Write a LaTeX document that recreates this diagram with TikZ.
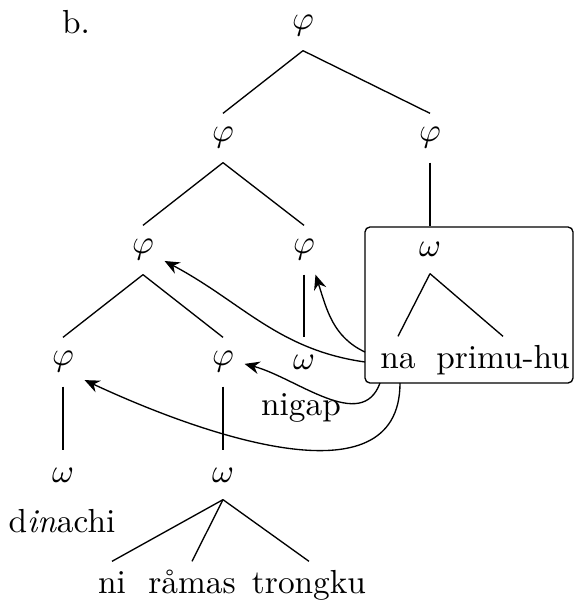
\documentclass[tikz,border=0pt]{standalone}
\usepackage{amssymb}
\usepackage{amsmath}
\usepackage{tikz}
\usetikzlibrary{arrows.meta}

\begin{document}
\begin{tikzpicture}[x=0.3pt,y=0.3pt]
\tikzset{cat/.style = {inner xsep=3pt, inner ysep=0pt, minimum height=14.4pt}}
\tikzset{word/.style = {anchor=base, inner sep=2.4pt, text height=6.9pt, text depth=2pt}}
\tikzset{edge/.style = {->,> = {Stealth[length=4.5pt,width=3.8pt,inset=1.5pt]}}}
\useasboundingbox (0,0) rectangle (575,-600);
% the box
\node[draw, rounded corners=1.5pt, inner sep=0pt, minimum width=62.4pt, minimum height=46.8pt] (box) at (469,-305) {};
% label
\node[anchor=base] (lab) at (76,-33) {b.};
% phrases
\node[cat] (p1) at (303,-26) {$\varphi$};
\node[cat] (p2l) at (223,-138) {$\varphi$};
\node[cat] (p2r) at (430,-138) {$\varphi$};
\node[cat] (p3l) at (143,-250) {$\varphi$};
\node[cat] (p3r) at (304,-250) {$\varphi$};
\node[cat] (p4l) at (63,-362) {$\varphi$};
\node[cat] (p4r) at (223,-362) {$\varphi$};
% words
\node[cat] (w1) at (430,-249) {$\omega$};
\node[cat] (w2) at (304,-362) {$\omega$};
\node[cat] (w3) at (63,-475) {$\omega$};
\node[cat] (w4) at (223,-475) {$\omega$};
% texts
\node[word] (na) at (398,-368) {na};
\node[word] (prim) at (503,-368) {primu-hu};
\node[word] (nigap) at (301,-415) {nigap};
\node[word] (din) at (62,-532) {d\textit{in}achi};
\node[word] (ni) at (112,-593) {ni};
\node[word] (ramas) at (192,-593) {råmas};
\node[word] (trong) at (309,-593) {trongku};
% branches
\draw (p1.south) -- (p2l.north);
\draw (p1.south) -- (p2r.north);
\draw (p2l.south) -- (p3l.north);
\draw (p2l.south) -- (p3r.north);
\draw (p2r.south) -- (box.north -| p2r);
\draw (p3l.south) -- (p4l.north);
\draw (p3l.south) -- (p4r.north);
\draw (p3r.south) -- (w2.north);
\draw (p4l.south) -- (w3.north);
\draw (p4r.south) -- (w4.north);
\draw (w1.south) -- (na.north);
\draw (w1.south) -- (prim.north);
\draw (w4.south) -- (ni.north);
\draw (w4.south) -- (ramas.north);
\draw (w4.south) -- (trong.north);
% arrows
\coordinate (s1) at (365,-362);
\coordinate (s2) at (365,-352);
\coordinate (s3) at (380,-383);
\coordinate (s4) at (400,-383);
\draw[edge] (s1) to[out=172,in=-28] (p3l.-27);
\draw[edge] (s2) to[out=155,in=-72] (p3r.-65);
\draw[edge] (s3) to[out=-110,in=-15] (p4r.-5);
\draw[edge] (s4) to[out=-90,in=-25] (p4l.-40);
\end{tikzpicture}
\end{document}
